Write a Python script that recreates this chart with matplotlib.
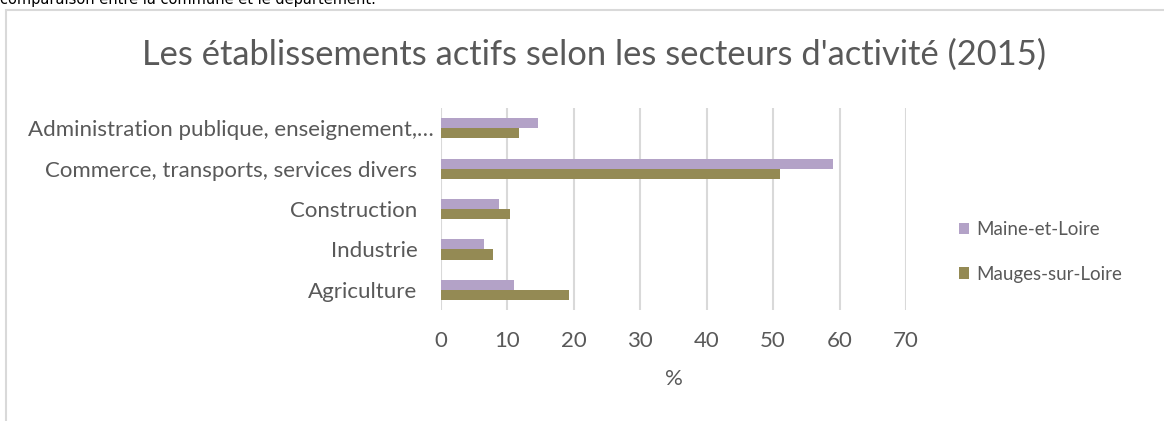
import matplotlib.pyplot as plt
import matplotlib.transforms as mtransforms
import numpy as np
from matplotlib.patches import Rectangle

plt.rcParams['font.family'] = ['Lato', 'DejaVu Sans']

# Data (%), bottom to top as drawn
sectors = ['Agriculture', 'Industrie', 'Construction',
           'Commerce, transports, services divers',
           'Administration publique, enseignement,…']
maine_et_loire = [11.0, 6.5, 8.8, 59.0, 14.6]
mauges_sur_loire = [19.3, 7.9, 10.4, 51.1, 11.7]
ticks = [0, 10, 20, 30, 40, 50, 60, 70]

purple = '#B3A2C7'
olive = '#948A54'
grey = '#595959'

fig = plt.figure(figsize=(11.64, 4.21), dpi=100)

# text cut off above the chart box
fig.text(0.0, 1.0 - 4 / 421, 'comparaison entre la commune et le département.',
         fontsize=10.5, family='DejaVu Sans', color='black', ha='left', va='baseline')

# chart frame
fig.patches.append(Rectangle((6 / 1164, -0.1), 1.2, 1 - 10 / 421 + 0.1,
                             transform=fig.transFigure, fill=False,
                             edgecolor='#D9D9D9', linewidth=1.5))

ax = fig.add_axes([441 / 1164, 1 - 310 / 421, (906 - 441) / 1164, (310 - 108) / 421])

y = np.arange(len(sectors))
h = 0.25
ax.barh(y + h / 2, maine_et_loire, height=h, color=purple, label='Maine-et-Loire', zorder=3)
ax.barh(y - h / 2, mauges_sur_loire, height=h, color=olive, label='Mauges-sur-Loire', zorder=3)

ax.set_xlim(0, 70)
ax.set_ylim(-0.5, len(sectors) - 0.5)
ax.set_xticks(ticks)
ax.set_xticklabels([str(t) for t in ticks])
ax.set_yticks(y)
ax.set_yticklabels(sectors)
ax.tick_params(axis='x', length=0, pad=15, labelsize=16, labelcolor=grey)
ax.tick_params(axis='y', length=0, pad=17, labelsize=16, labelcolor=grey)
ax.grid(axis='x', color='#D9D9D9', linewidth=1.5, zorder=0)
for s in ax.spines.values():
    s.set_visible(False)
ax.set_xlabel('%', fontsize=16, color=grey, labelpad=13)

# the truncated label sits a little further right
lab = ax.get_yticklabels()[-1]
lab.set_transform(lab.get_transform() +
                  mtransforms.ScaledTranslation(16 / 100, 0, fig.dpi_scale_trans))

fig.text(594 / 1164, 1 - 55 / 421,
         "Les établissements actifs selon les secteurs d'activité (2015)",
         fontsize=24.8, color=grey, ha='center', va='center')

leg = ax.legend(loc='center left', bbox_to_anchor=(942 / 1164, 1 - 252 / 421),
                bbox_transform=fig.transFigure, frameon=False, fontsize=13.5,
                handlelength=0.55, handleheight=0.55, handletextpad=0.4,
                labelspacing=1.45)
for t in leg.get_texts():
    t.set_color(grey)

fig.savefig('out.png', dpi=100)
